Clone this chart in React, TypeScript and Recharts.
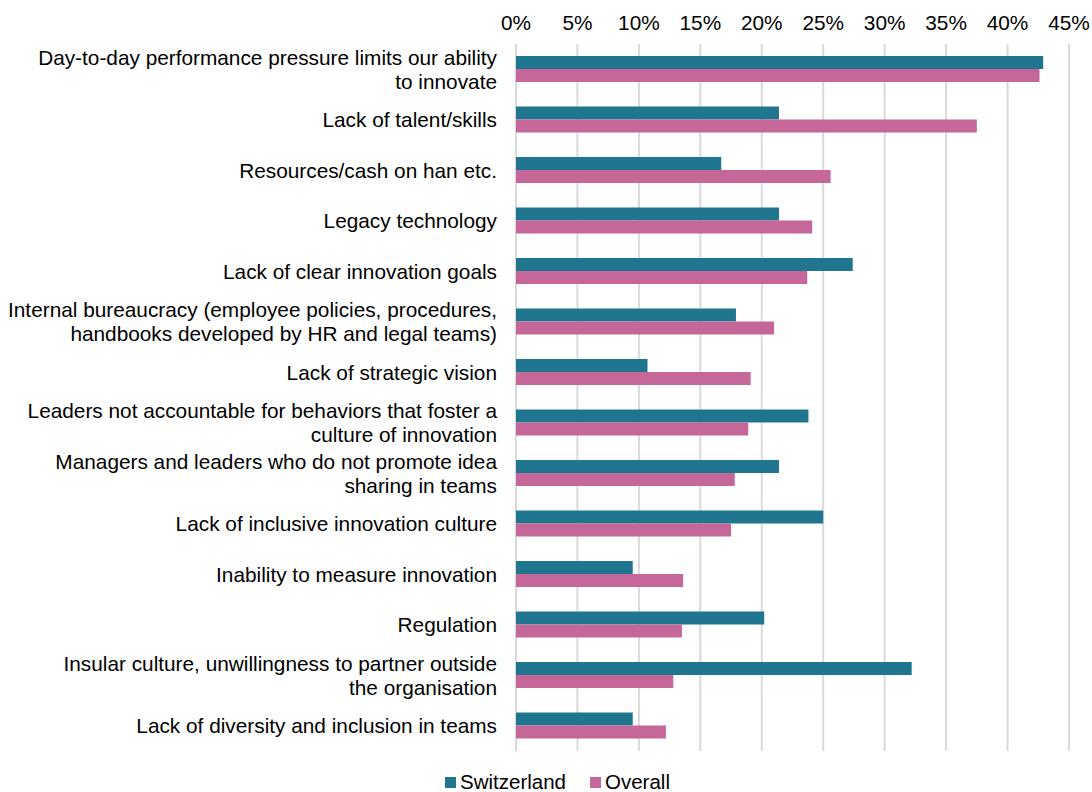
import { BarChart, Bar, XAxis, YAxis, CartesianGrid, Legend } from "recharts";

const categories = [
  "Day-to-day performance pressure limits our ability\nto innovate",
  "Lack of talent/skills",
  "Resources/cash on han etc.",
  "Legacy technology",
  "Lack of clear innovation goals",
  "Internal bureaucracy (employee policies, procedures,\nhandbooks developed by HR and legal teams)",
  "Lack of strategic vision",
  "Leaders not accountable for behaviors that foster a\nculture of innovation",
  "Managers and leaders who do not promote idea\nsharing in teams",
  "Lack of inclusive innovation culture",
  "Inability to measure innovation",
  "Regulation",
  "Insular culture, unwillingness to partner outside\nthe organisation",
  "Lack of diversity and inclusion in teams",
];

const switzerland = [42.9, 21.4, 16.7, 21.4, 27.4, 17.9, 10.7, 23.8, 21.4, 25.0, 9.5, 20.2, 32.2, 9.5];
const overall = [42.6, 37.5, 25.6, 24.1, 23.7, 21.0, 19.1, 18.9, 17.8, 17.5, 13.6, 13.5, 12.8, 12.2];

const xTicks = [0, 5, 10, 15, 20, 25, 30, 35, 40, 45];

const TEAL = "#21768F";
const PINK = "#C6679A";
const FONT = "'Liberation Sans', Arial, sans-serif";
const FS = 20.8;

const data = categories.map((name, i) => ({
  name,
  Switzerland: switzerland[i],
  Overall: overall[i],
}));

function CategoryTick(props: any) {
  const { x, y, payload } = props;
  const lines = String(payload.value).split("\n");
  const lineH = 24;
  const start = y - ((lines.length - 1) * lineH) / 2 + 7.5;
  return (
    <text x={x} y={start} textAnchor="end" fontSize={FS} fontFamily={FONT} fill="#000">
      {lines.map((l, i) => (
        <tspan key={i} x={x} y={start + i * lineH}>
          {l}
        </tspan>
      ))}
    </text>
  );
}

function LegendContent() {
  const items = [
    { label: "Switzerland", color: TEAL },
    { label: "Overall", color: PINK },
  ];
  return (
    <div
      style={{
        display: "flex",
        justifyContent: "center",
        gap: 24,
        fontFamily: FONT,
        fontSize: 20.5,
        lineHeight: "18px",
        color: "#000",
        marginLeft: 46,
        paddingTop: 22,
      }}
    >
      {items.map((it) => (
        <div key={it.label} style={{ display: "flex", alignItems: "center" }}>
          <span style={{ width: 11, height: 11, background: it.color, marginRight: 4, display: "inline-block" }} />
          <span>{it.label}</span>
        </div>
      ))}
    </div>
  );
}

export default function App() {
  return (
    <div style={{ position: "absolute", left: 0, top: 0, background: "#fff" }}>
      <BarChart
        width={1092}
        height={792}
        data={data}
        layout="vertical"
        margin={{ top: 0, right: 23, bottom: 0, left: 0 }}
        barGap={0}
        barSize={13}
      >
        <CartesianGrid horizontal={false} stroke="#D9D9D9" strokeWidth={2} />
        <XAxis
          type="number"
          orientation="top"
          domain={[0, 45]}
          ticks={xTicks}
          tickFormatter={(v) => `${v}%`}
          axisLine={false}
          tickLine={false}
          tickSize={12}
          tickMargin={2}
          height={44}
          interval={0}
          tick={{ fontSize: FS, fontFamily: FONT, fill: "#000" }}
        />
        <YAxis
          type="category"
          dataKey="name"
          width={516}
          axisLine={false}
          tickLine={false}
          tickSize={0}
          tickMargin={19}
          interval={0}
          tick={<CategoryTick />}
        />
        <Legend verticalAlign="bottom" height={41} content={<LegendContent />} />
        <Bar dataKey="Switzerland" fill={TEAL} isAnimationActive={false} />
        <Bar dataKey="Overall" fill={PINK} isAnimationActive={false} />
      </BarChart>
    </div>
  );
}
